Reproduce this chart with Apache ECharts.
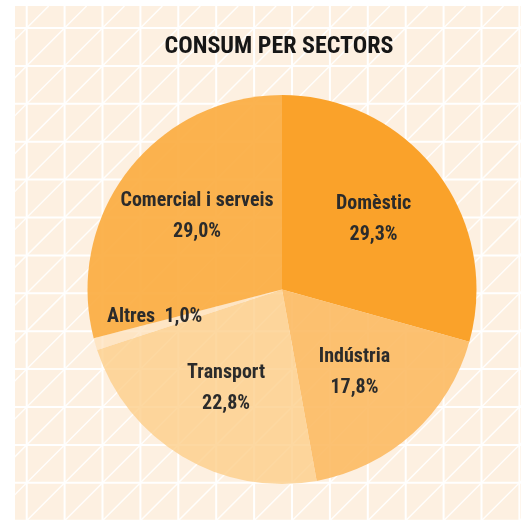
<!DOCTYPE html>
<html>
<head>
<meta charset="utf-8">
<script src="https://cdn.jsdelivr.net/npm/echarts@6/dist/echarts.min.js"></script>
<style>
    html, body { margin: 0; padding: 0; background: #ffffff; }
    #sectorsPie { position: absolute; left: 15px; top: 6px; width: 506px; height: 514px; }
</style>
</head>
<body>
<div id="sectorsPie"></div>
<script>
//consum per sectors

var sectors = ['Domèstic', 'Indústria', 'Transport', 'Altres', 'Comercial i serveis'];
var shares = [29.3, 17.8, 22.8, 1.0, 29.0];
// same order as sectors
var sliceColors = ['#faa22a', 'rgba(252,184,94,0.88)', 'rgba(253,206,138,0.8)', 'rgba(254,223,184,0.7)', 'rgba(251,173,65,0.92)'];

var condensed = '"Roboto Condensed", "DejaVu Sans Condensed", sans-serif';

function fmt(v) {
    return v.toFixed(1).replace('.', ',') + '%';
}

//background grid (white lines on cream)
var gridLines = [];
var step = 37.9, ox = 11.7, oy = 22;
for (var i = 0; i < 15; i++) {
    gridLines.push({
        type: 'line', silent: true,
        shape: { x1: ox + i * step, y1: 0, x2: ox + i * step, y2: 520 },
        style: { stroke: '#ffffff', lineWidth: 2 }
    });
    gridLines.push({
        type: 'line', silent: true,
        shape: { x1: 0, y1: oy + i * step, x2: 510, y2: oy + i * step },
        style: { stroke: '#ffffff', lineWidth: 2 }
    });
}
for (var k = -2; k < 30; k++) {
    var c = ox + oy + k * step;
    gridLines.push({
        type: 'line', silent: true,
        shape: { x1: c, y1: 0, x2: c - 600, y2: 600 },
        style: { stroke: '#ffffff', lineWidth: 1.5, opacity: 0.9 }
    });
}

var sectorsPie = echarts.init(document.getElementById('sectorsPie'));
option = {
    backgroundColor: '#fdf0e1',
    title: {
        text: 'CONSUM PER SECTORS',
        left: 259,
        top: 24,
        textAlign: 'center',
        textStyle: {
            fontFamily: condensed,
            fontWeight: 'bold',
            fontSize: 24,
            color: '#161616'
        }
    },
    graphic: { elements: gridLines },
    series: [
        {
            name: 'Consum',
            type: 'pie',
            center: [267, 283.5],
            radius: [0, 194.5],
            startAngle: 90,
            silent: true,
            label: { show: false },
            labelLine: { show: false },
            data: sectors.map(function (s, i) {
                return { name: s, value: shares[i], itemStyle: { color: sliceColors[i] } };
            })
        },
        {
            //only carries the labels
            name: 'Etiquetes',
            type: 'pie',
            center: [267, 283.5],
            radius: [96, 128],
            startAngle: 90,
            silent: true,
            itemStyle: { color: 'rgba(0,0,0,0)' },
            label: {
                show: true,
                position: 'inside',
                fontFamily: condensed,
                fontWeight: 'bold',
                fontSize: 20,
                lineHeight: 31,
                color: '#2b2b2b',
                textBorderWidth: 0,
                formatter: function (p) {
                    if (p.name === 'Altres') return p.name + '  ' + fmt(p.value);
                    return p.name + '\n' + fmt(p.value);
                }
            },
            labelLine: { show: false },
            labelLayout: function (p) {
                if (p.dataIndex === 1) return { dx: -5, dy: -2 };
                if (p.dataIndex === 2) return { dx: 3, dy: 0 };
                if (p.dataIndex === 3) return { dx: -17, dy: -5 };
                if (p.dataIndex === 4) return { dx: 6, dy: -3 };
                return {};
            },
            data: sectors.map(function (s, i) {
                return { name: s, value: shares[i] };
            })
        }
    ]
};
sectorsPie.setOption(option);
</script>
</body>
</html>
